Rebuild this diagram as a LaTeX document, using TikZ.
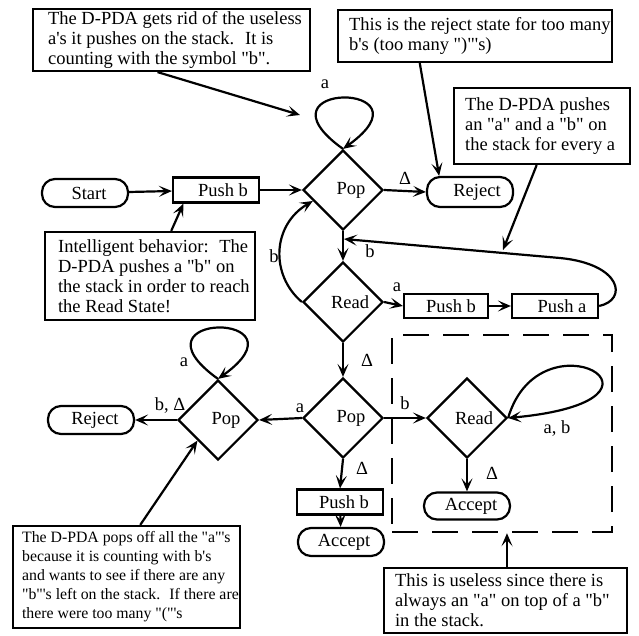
\documentclass[tikz,border=0pt]{standalone}
\usepackage{fontspec}
\setmainfont{Liberation Serif}[Ligatures=TeXOff]
\usetikzlibrary{shapes.geometric,arrows.meta,calc}
\begin{document}
\begin{tikzpicture}[x=1pt,y=-1pt, line width=2.2pt,
  every node/.style={font=\fontsize{18.5}{20}\selectfont},
  arr/.style={-{Stealth[length=13pt,width=11pt,inset=6pt]}},
  dia/.style={diamond, draw, minimum width=80pt, minimum height=80pt, inner sep=0pt, shape aspect=1},
  term/.style={draw, rounded corners=13pt, minimum width=86pt, minimum height=28pt, inner sep=0pt},
  pbox/.style={draw, minimum width=86pt, minimum height=25pt, inner sep=0pt},
  notebox/.style={draw, inner sep=0pt},
  ntext/.style={align=left, anchor=west, inner sep=0pt},
  lbl/.style={inner sep=0pt},
  dbox/.style={draw, dash pattern=on 26pt off 14pt, line width=2.4pt, inner sep=0pt}]
\useasboundingbox (0,0) rectangle (639,635);

% ---- notes
\node[notebox, minimum width=277pt, minimum height=62pt] (tlbox) at (171.5,40) {};
\node[ntext] (tltext) at (47,40) {The D-PDA gets rid of the useless\\a's it pushes on the stack.~ It is\\counting with the symbol "b".};

\node[notebox, minimum width=274pt, minimum height=52pt] (trbox) at (475,36) {};
\node[ntext] (trtext) at (348,36) {This is the reject state for too many\\b's (too many ")"'s)};

\node[notebox, minimum width=176pt, minimum height=76pt] (rbox) at (542,126) {};
\node[ntext] (rtext) at (464,126) {The D-PDA pushes\\an "a" and a "b" on\\the stack for every a};

\node[notebox, minimum width=210pt, minimum height=88pt] (ibox) at (150,276) {};
\node[ntext] (itext) at (57,276) {Intelligent behavior:~ The\\D-PDA pushes a "b" on\\the stack in order to reach\\the Read State!};

\node[notebox, minimum width=227pt, minimum height=102pt] (blbox) at (126.5,577) {};
\node[ntext, font=\fontsize{15.8}{19}\selectfont] (bltext) at (21,577) {The D-PDA pops off all the "a"'s\\because it is counting with b's\\and wants to see if there are any\\"b"'s left on the stack.~ If there are\\there were too many "("'s};

\node[notebox, minimum width=243pt, minimum height=65pt] (brbox) at (505.5,600.5) {};
\node[ntext] (brtext) at (394,600) {This is useless since there is\\always an "a" on top of a "b"\\in the stack.};

\node[dbox, minimum width=220pt, minimum height=197pt] (dash) at (502,433.5) {};

% ---- states
\node[term] (start) at (85,193) {\hspace*{8pt}Start};
\node[pbox] (pb1) at (216,190) {\hspace*{14pt}Push b};
\node[dia] (pop1) at (343,190) {\hspace*{16pt}Pop};
\node[term, minimum height=30pt] (rejT) at (470,192) {\hspace*{14pt}Reject};
\node[dia] (read1) at (343,302) {\hspace*{14pt}Read};
\node[pbox, minimum width=84pt, minimum height=24pt] (pb2) at (446,306) {\hspace*{10pt}Push b};
\node[pbox, minimum height=24pt] (pa) at (555,306) {\hspace*{14pt}Push a};
\node[dia] (pop3) at (218,420) {\hspace*{16pt}Pop};
\node[dia] (pop2) at (343,418) {\hspace*{16pt}Pop};
\node[dia] (read2) at (467,418) {\hspace*{14pt}Read};
\node[term] (rejL) at (91,420) {\hspace*{8pt}Reject};
\node[pbox] (pb3) at (340,502) {\hspace*{8pt}Push b};
\node[term] (acc3) at (341,542) {\hspace*{6pt}Accept};
\node[term, minimum height=27pt] (accR) at (467,506) {\hspace*{8pt}Accept};

% ---- connectors
\draw[arr] (start) -- (pb1);
\draw[arr] (pb1) -- (pop1.west);
\draw[arr] (pop1.east) -- (rejT.west);
\node[lbl] (l1) at (405,178) {Δ};
\draw[arr] (pop1.north) .. controls +(-95,-68) and +(95,-68) .. (pop1.north);
\node[lbl] (l2) at (325,84) {a};
\draw[arr] (pop1.south) -- (read1.north);
\draw[arr] (read1.east) -- (pb2.west);
\node[lbl] (l3) at (397,287) {a};
\draw[arr] (pb2) -- (pa);
\coordinate (m1) at (344,239);
\draw[arr] (pa.east) .. controls (628,300) and (622,264) .. (560,258) -- (m1);
\node[lbl] (l4) at (370,251) {b};
\draw[arr] (read1.west) .. controls (270,275) and (272,225) .. (pop1.200);
\node[lbl] (l5) at (274,256) {b};
\draw[arr] (read1.south) -- (pop2.north);
\node[lbl] (l6) at (367,360) {Δ};
\draw[arr] (pop2.east) -- (read2.west);
\node[lbl] (l7) at (405,403) {b};
\draw[arr] (pop2.west) -- (pop3.east);
\node[lbl] (l8) at (300,408) {a};
\draw[arr] (pop3.west) -- (rejL.east);
\node[lbl] (l9) at (170,405) {b, Δ};
\draw[arr] (pop3.north) .. controls +(-95,-68) and +(95,-68) .. (pop3.north);
\node[lbl] (l10) at (184,362) {a};
\draw[arr] (pop2.south) -- (pb3.north);
\node[lbl] (l11) at (362,468) {Δ};
\draw[arr] (pb3) -- (acc3);
\draw[arr] (read2.east) .. controls (540,310) and (700,400) .. (read2.east);
\node[lbl] (l12) at (557,428) {a, b};
\draw[arr] (read2.south) -- (accR.north);
\node[lbl] (l13) at (492,473) {Δ};

% ---- note pointers
\draw[arr] ($(tlbox.south west)!0.45!(tlbox.south east)$) -- (300,115);
\draw[arr] ($(trbox.south west)!0.3!(trbox.south east)$) -- ($(rejT.north west)!0.15!(rejT.north east)$);
\draw[arr] ($(rbox.south west)!0.47!(rbox.south east)$) -- (503,250);
\draw[arr] ($(ibox.north west)!0.6!(ibox.north east)$) -- ($(pb1.south west)!0.13!(pb1.south east)$);
\draw[arr] ($(blbox.north west)!0.56!(blbox.north east)$) -- (pop3.south west);
\coordinate (bs) at ($(brbox.north west)!0.506!(brbox.north east)$);
\draw[arr] (bs) -- (bs |- dash.south);
\end{tikzpicture}
\end{document}
